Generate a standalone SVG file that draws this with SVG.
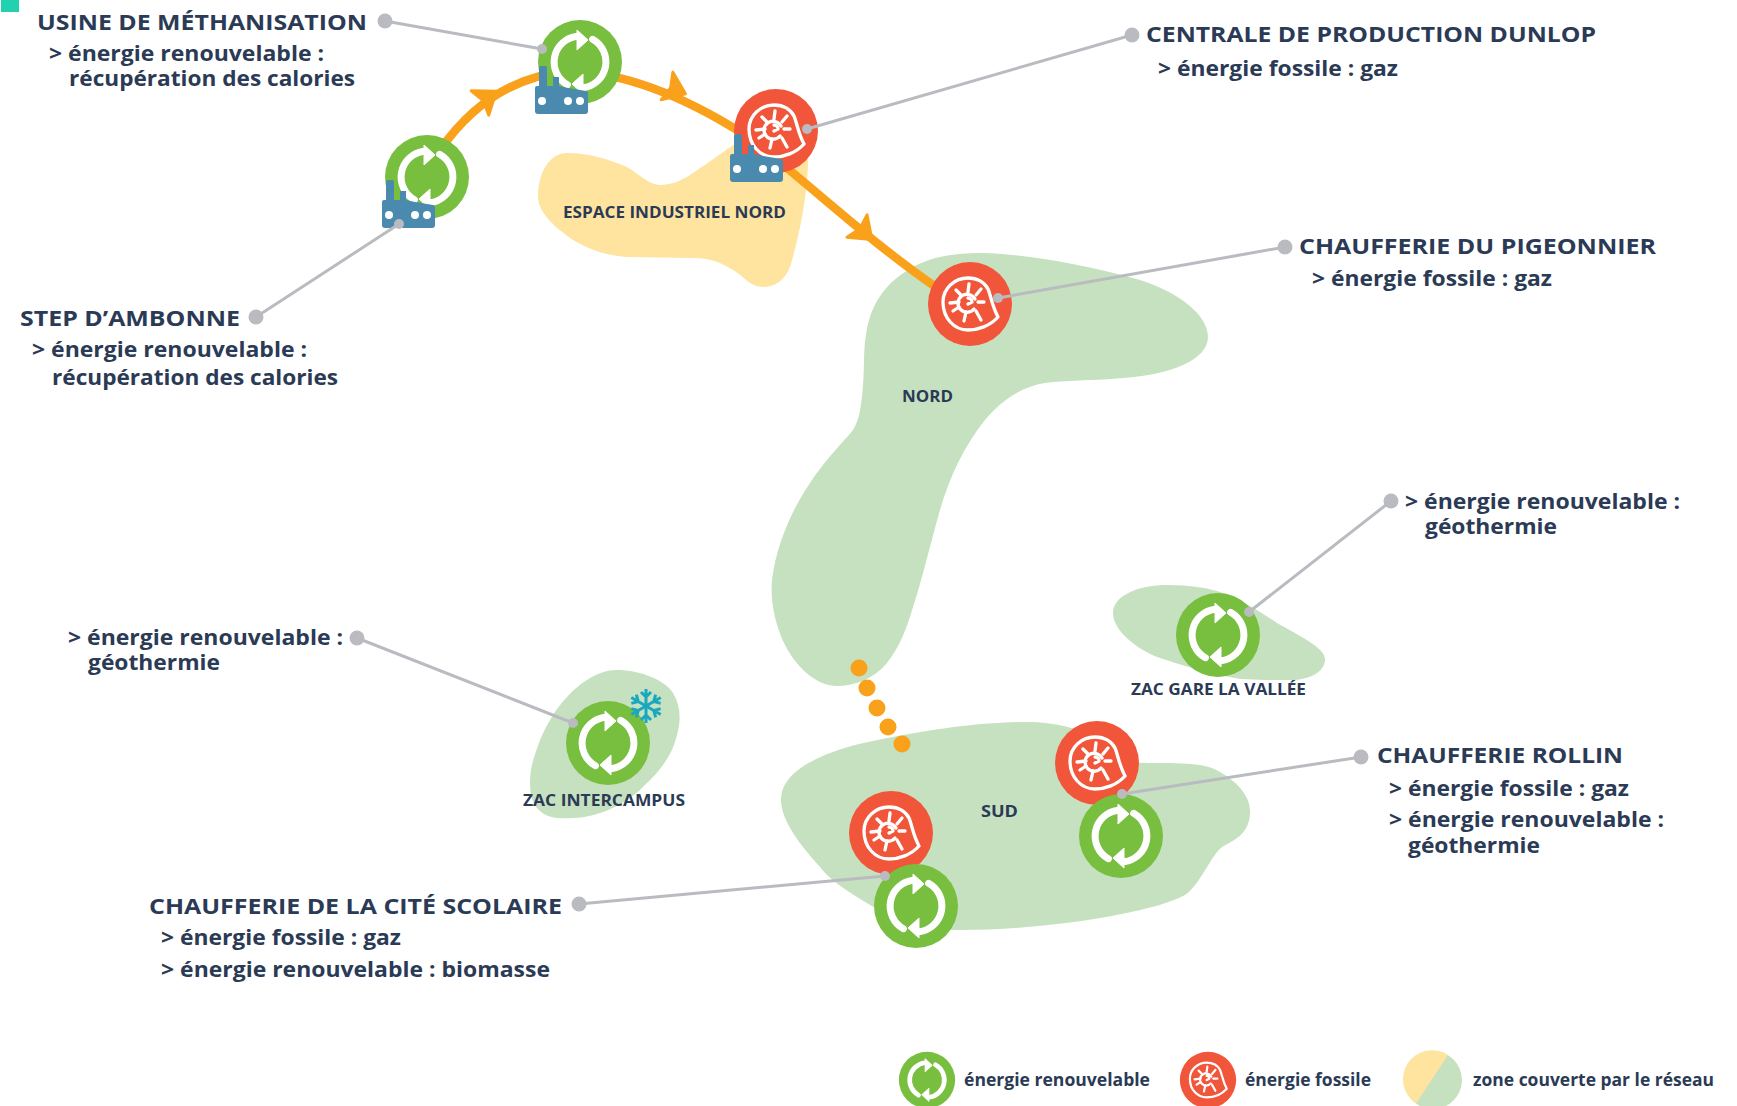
<svg xmlns="http://www.w3.org/2000/svg" width="1737" height="1106" viewBox="0 0 1737 1106">
<style>
text{font-family:"Open Sans","Liberation Sans",sans-serif;fill:#2B3A55;font-weight:700}
.h{font-size:22px}
.b{font-size:22px}
.z{font-size:16px;font-weight:700}
.l{font-size:18.500px}
.green{fill:#C6E1BF}
.yellow{fill:#FEE49F}
.conn{stroke:#B9BBC0;stroke-width:3;fill:none}
.dot{fill:#B9BBC0}
.orange{fill:#F9A11B}
</style>
<defs>
<g id="rec">
<circle r="42" fill="#78BE3F"/>
<g fill="none" stroke="#fff" stroke-width="7" stroke-linecap="round">
<path d="M-12.600 22.700 A26 26 0 0 1 -3 -25.800"/>
<path d="M12.600 -22.700 A26 26 0 0 1 3 25.800"/>
</g>
<path d="M-3 -32 L8 -22 L-3 -12Z M3 32 L-8 22 L3 12Z" fill="#fff" stroke="#fff" stroke-width="1" stroke-linejoin="round"/>
</g>
<g id="fos">
<circle r="42" fill="#F1553A"/>
<g fill="none" stroke="#fff" stroke-width="3.300" stroke-linecap="round" stroke-linejoin="round">
<path d="M28 13 C20 22 8 26 -2 26 C-16 26 -27 14 -27 -2 C-27 -16 -15 -26 -2 -26 C8 -26 15 -21 18 -15 C21 -8 22 2 28 13"/>
<path d="M5 -5 A9 9 0 1 0 4 5 M-2 -6 A4 4 0 0 1 2 -2 L-2 0"/>
<path d="M-2 -12 L-1 -20 M6 -9 L11 -15 M8 -2 L14 -2 M6 7 L11 16 M-4 8 L-6 17 M-11 3 L-17 7 M-11 -2 L-20 -1 M-9 -9 L-14 -14"/>
</g>
</g>
<g id="fac" fill="#4A8AAE">
<path d="M2 20 L4 20 L4 2 Q4 0 6 0 L10 0 Q12 0 12 2 L12 20 L18 20 L18 11 L24 11 L24 20 L33 22 L51 25 Q53 25 53 28 L53 45 Q53 48 50 48 L3 48 Q0 48 0 45 L0 22 Q0 20 2 20Z"/>
<g fill="#fff"><circle cx="7" cy="35" r="4"/><circle cx="33" cy="35" r="4"/><circle cx="45" cy="35" r="4"/></g>
</g>
<path id="tri" d="M20 0 L0 -15 L4 0 L0 15Z" fill="#F9A11B" stroke="#F9A11B" stroke-width="3" stroke-linejoin="round"/>
<g id="arm" fill="none" stroke="#19A8BF" stroke-width="3"><path d="M0 0 L0 -17 M-5 -14 L0 -9 L5 -14"/></g>
</defs>
<rect width="1737" height="1106" fill="#fff"/>
<rect x="1" y="0" width="18" height="12" fill="#22D1AE"/>

<g id="zone-espace-industriel-nord">
<path class="yellow" d="M538 197 C538 172 550 153 567 153 C590 153 610 160 627 167 C640 175 650 185 660 185 C672 185 683 180 693 173 C710 162 725 150 737 143 C745 140 808 140 808 160 C808 190 800 235 790 267 C785 280 775 287 763 287 C750 287 745 277 733 270 C720 262 710 258 693 258 L627 257 C605 255 590 250 573 240 C555 228 538 212 538 197Z"/>
<text class="z" x="563" y="218" textLength="223" lengthAdjust="spacingAndGlyphs">ESPACE INDUSTRIEL NORD</text>
</g>
<g id="zone-nord">
<path class="green" d="M980 253 C1015 253 1080 263 1140 280 C1180 293 1208 315 1208 337 C1208 360 1170 375 1123 378 C1090 381 1065 380 1045 383 C1020 387 1000 402 985 420 C965 445 950 475 940 510 C930 545 922 580 913 607 C905 635 897 650 887 663 C875 678 855 686 837 686 C815 686 795 665 785 645 C775 625 770 600 772 580 C777 540 795 505 810 483 C825 460 845 440 853 430 C860 418 860 410 862 397 C865 370 863 350 866 335 C870 305 885 285 905 272 C925 258 950 253 980 253Z"/>
<text class="z" x="902" y="402" textLength="51" lengthAdjust="spacingAndGlyphs">NORD</text>
</g>
<g id="zone-sud">
<path class="green" d="M1027 722 C1055 722 1090 730 1110 745 C1120 757 1130 763 1145 763 C1165 763 1195 762 1212 768 C1234 778 1252 795 1250 815 C1248 835 1234 840 1222 847 C1210 857 1200 885 1185 895 C1155 912 1050 930 960 930 C925 930 900 922 870 905 C845 890 830 880 820 867 C800 845 781 820 781 800 C781 785 790 775 805 765 C830 750 860 743 893 737 C930 730 980 722 1027 722Z"/>
<text class="z" x="981" y="817" textLength="37" lengthAdjust="spacingAndGlyphs">SUD</text>
</g>
<g id="zone-zac-gare">
<path class="green" d="M1113 613 C1113 595 1140 585 1167 585 C1190 585 1210 588 1223 593 C1245 602 1262 613 1277 623 C1300 636 1325 648 1325 659 C1325 672 1310 680 1290 680 C1265 680 1240 680 1230 677 C1205 672 1180 665 1157 657 C1135 648 1113 630 1113 613Z"/>
<text class="z" x="1131" y="695" textLength="175" lengthAdjust="spacingAndGlyphs">ZAC GARE LA VALLÉE</text>
</g>
<g id="zone-zac-intercampus">
<path class="green" d="M617 670 C640 670 665 680 673 693 C682 708 682 725 672 750 C662 770 650 780 640 790 C625 803 610 810 600 813 C585 818 572 819 557 818 C540 816 530 805 530 783 C530 765 535 755 540 740 C548 722 555 710 567 697 C580 683 598 670 617 670Z"/>
<text class="z" x="523" y="806" textLength="162" lengthAdjust="spacingAndGlyphs">ZAC INTERCAMPUS</text>
</g>

<g id="network">
<path d="M440 150 C475 100 520 75 570 71 C630 73 690 100 745 135 C800 175 860 235 940 290" fill="none" stroke="#F9A11B" stroke-width="8.500"/>
<use href="#tri" transform="translate(480 103) rotate(-36)"/>
<use href="#tri" transform="translate(667 86) rotate(23)"/>
<use href="#tri" transform="translate(857 226) rotate(42)"/>
<circle class="orange" cx="859" cy="668" r="8.500"/>
<circle class="orange" cx="867" cy="688" r="8.500"/>
<circle class="orange" cx="877" cy="708" r="8.500"/>
<circle class="orange" cx="888" cy="727" r="8.500"/>
<circle class="orange" cx="902" cy="744" r="8.500"/>
</g>

<g id="node-usine">
<use href="#rec" x="580" y="62"/>
<use href="#fac" x="535" y="66"/>
<text class="h" x="37" y="30" textLength="330" lengthAdjust="spacingAndGlyphs">USINE DE MÉTHANISATION</text>
<text class="b" x="49" y="61" textLength="275" lengthAdjust="spacingAndGlyphs">&gt; énergie renouvelable :</text>
<text class="b" x="69" y="86" textLength="286" lengthAdjust="spacingAndGlyphs">récupération des calories</text>
</g>
<g id="node-step">
<use href="#rec" x="427" y="177"/>
<use href="#fac" x="382" y="180"/>
<text class="h" x="20" y="326" textLength="220" lengthAdjust="spacingAndGlyphs">STEP D’AMBONNE</text>
<text class="b" x="32" y="357" textLength="275" lengthAdjust="spacingAndGlyphs">&gt; énergie renouvelable :</text>
<text class="b" x="52" y="385" textLength="286" lengthAdjust="spacingAndGlyphs">récupération des calories</text>
</g>
<g id="node-dunlop">
<use href="#fos" x="776" y="131"/>
<use href="#fac" x="730" y="134"/>
<text class="h" x="1146" y="42" textLength="450" lengthAdjust="spacingAndGlyphs">CENTRALE DE PRODUCTION DUNLOP</text>
<text class="b" x="1158" y="76" textLength="240" lengthAdjust="spacingAndGlyphs">&gt; énergie fossile : gaz</text>
</g>
<g id="node-pigeonnier">
<use href="#fos" x="970" y="304"/>
<text class="h" x="1299" y="254" textLength="357" lengthAdjust="spacingAndGlyphs">CHAUFFERIE DU PIGEONNIER</text>
<text class="b" x="1312" y="286" textLength="240" lengthAdjust="spacingAndGlyphs">&gt; énergie fossile : gaz</text>
</g>
<g id="node-zac-gare">
<use href="#rec" x="1218" y="635"/>
<text class="b" x="1405" y="509" textLength="275" lengthAdjust="spacingAndGlyphs">&gt; énergie renouvelable :</text>
<text class="b" x="1425" y="534" textLength="132" lengthAdjust="spacingAndGlyphs">géothermie</text>
</g>
<g id="node-zac-intercampus">
<use href="#rec" x="608" y="743"/>
<g transform="translate(646 706)">
<use href="#arm"/><use href="#arm" transform="rotate(60)"/><use href="#arm" transform="rotate(120)"/><use href="#arm" transform="rotate(180)"/><use href="#arm" transform="rotate(240)"/><use href="#arm" transform="rotate(300)"/>
</g>
<text class="b" x="68" y="645" textLength="275" lengthAdjust="spacingAndGlyphs">&gt; énergie renouvelable :</text>
<text class="b" x="88" y="670" textLength="132" lengthAdjust="spacingAndGlyphs">géothermie</text>
</g>
<g id="node-rollin">
<use href="#fos" x="1097" y="763"/>
<use href="#rec" x="1121" y="836"/>
<text class="h" x="1377" y="763" textLength="246" lengthAdjust="spacingAndGlyphs">CHAUFFERIE ROLLIN</text>
<text class="b" x="1389" y="796" textLength="240" lengthAdjust="spacingAndGlyphs">&gt; énergie fossile : gaz</text>
<text class="b" x="1389" y="827" textLength="275" lengthAdjust="spacingAndGlyphs">&gt; énergie renouvelable :</text>
<text class="b" x="1408" y="853" textLength="132" lengthAdjust="spacingAndGlyphs">géothermie</text>
</g>
<g id="node-cite-scolaire">
<use href="#fos" x="891" y="833"/>
<use href="#rec" x="916" y="906"/>
<text class="h" x="149" y="914" textLength="413" lengthAdjust="spacingAndGlyphs">CHAUFFERIE DE LA CITÉ SCOLAIRE</text>
<text class="b" x="161" y="945" textLength="240" lengthAdjust="spacingAndGlyphs">&gt; énergie fossile : gaz</text>
<text class="b" x="161" y="977" textLength="389" lengthAdjust="spacingAndGlyphs">&gt; énergie renouvelable : biomasse</text>
</g>

<g id="connectors">
<path class="conn" d="M385 21 L542 49 M256 317 L399 224 M1132 35 L807 129 M1285 247 L998 298 M1391 501 L1249 612 M357 638 L573 723 M1361 757 L1122 794 M579 904 L885 876"/>
<circle class="dot" cx="385" cy="21" r="7.500"/><circle class="dot" cx="542" cy="49" r="5"/>
<circle class="dot" cx="256" cy="317" r="7.500"/><circle class="dot" cx="399" cy="224" r="5"/>
<circle class="dot" cx="1132" cy="35" r="7.500"/><circle class="dot" cx="807" cy="129" r="5"/>
<circle class="dot" cx="1285" cy="247" r="7.500"/><circle class="dot" cx="998" cy="298" r="5"/>
<circle class="dot" cx="1391" cy="501" r="7.500"/><circle class="dot" cx="1249" cy="612" r="5"/>
<circle class="dot" cx="357" cy="638" r="7.500"/><circle class="dot" cx="573" cy="723" r="5"/>
<circle class="dot" cx="1361" cy="757" r="7.500"/><circle class="dot" cx="1122" cy="794" r="5"/>
<circle class="dot" cx="579" cy="904" r="7.500"/><circle class="dot" cx="885" cy="876" r="5"/>
</g>

<g id="legend">
<use href="#rec" transform="translate(927 1080) scale(.67)"/>
<text class="l" x="964" y="1086" textLength="186" lengthAdjust="spacingAndGlyphs">énergie renouvelable</text>
<use href="#fos" transform="translate(1208 1080) scale(.67)"/>
<text class="l" x="1245" y="1086" textLength="126" lengthAdjust="spacingAndGlyphs">énergie fossile</text>
<circle cx="1433" cy="1080" r="29" fill="#C6E1BF"/>
<path d="M1448 1055 A29 29 0 0 0 1416 1103.500Z" class="yellow"/>
<text class="l" x="1473" y="1086" textLength="241" lengthAdjust="spacingAndGlyphs">zone couverte par le réseau</text>
</g>
</svg>
